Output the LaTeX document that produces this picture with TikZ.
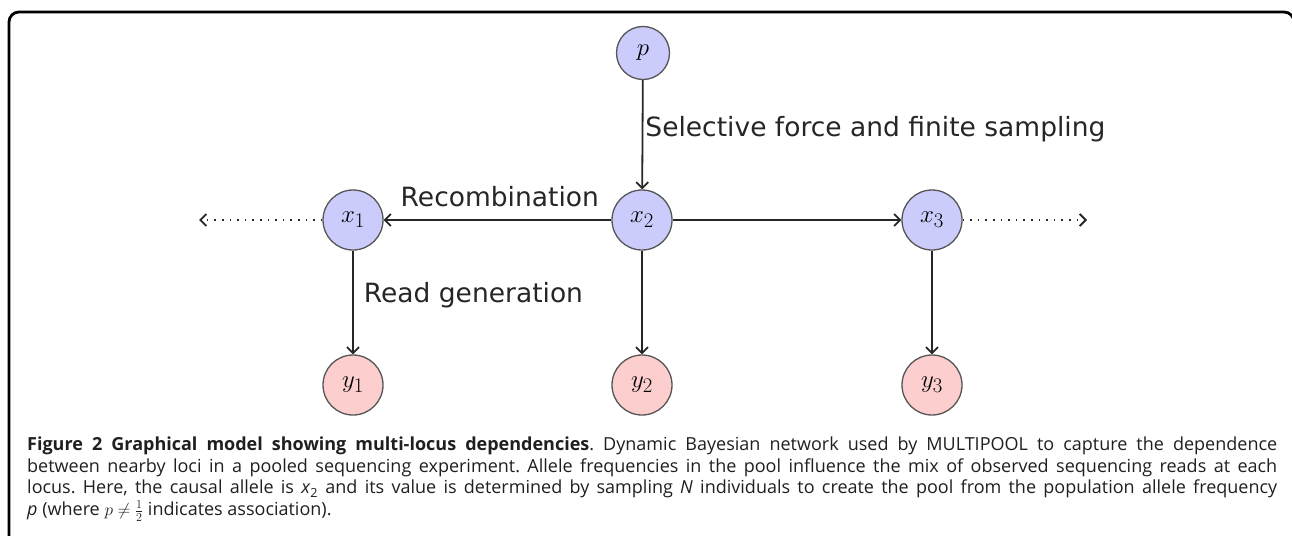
\documentclass[tikz,border=0pt]{standalone}
\usepackage{fontspec}
\setmainfont{Open Sans}
\newfontfamily\lblfont{DejaVu Sans}
\usetikzlibrary{arrows.meta}
\definecolor{nodeblue}{RGB}{204,204,252}
\definecolor{nodepink}{RGB}{252,206,206}
\definecolor{rim}{RGB}{85,85,85}
\begin{document}
\begin{tikzpicture}[x=1pt,y=-1pt,
  var/.style={circle, draw=rim, line width=1.3pt, fill=nodeblue, minimum size=60pt, inner sep=0pt, font=\fontsize{30}{34}\selectfont},
  pvar/.style={var, minimum size=53pt},
  obs/.style={var, fill=nodepink},
  edge/.style={draw=black!85, line width=1.8pt, -{Straight Barb[length=6pt,width=12pt]}},
  dotedge/.style={edge, dash pattern=on 1.6pt off 6pt},
  lbl/.style={font=\lblfont\fontsize{26.5}{30}\selectfont, text=black!85, inner sep=2pt},
  frame/.style={draw=black, line width=2.8pt, rounded corners=10pt},
  caption/.style={anchor=north west, inner sep=0pt, text width=1250pt, align=justify, text=black!88,
    font=\fontsize{18}{21.8}\selectfont}]
\useasboundingbox (0,0) rectangle (1292,535);
\draw[frame] (9,560) -- (9,12) -- (1294,12) -- (1294,560);

\node[pvar] (p)  at (643,53)  {$p$};
\node[var]  (x1) at (353,220) {$x_1$};
\node[var]  (x2) at (642,220) {$x_2$};
\node[var]  (x3) at (932,220) {$x_3$};
\node[obs]  (y1) at (353,385) {$y_1$};
\node[obs]  (y2) at (642,385) {$y_2$};
\node[obs]  (y3) at (932,385) {$y_3$};
\coordinate (lend) at (199,220);
\coordinate (rend) at (1087,220);

\draw[edge] (p) -- node[lbl, right, pos=0.45] {Selective force and finite sampling} (x2);
\draw[edge] (x2) -- node[lbl, above=10pt, pos=0.49] {Recombination} (x1);
\draw[edge] (x2) -- (x3);
\draw[edge] (x1) -- node[lbl, right=8pt, pos=0.43] {Read generation} (y1);
\draw[edge] (x2) -- (y2);
\draw[edge] (x3) -- (y3);
\draw[dotedge] (x1) -- (lend);
\draw[dotedge] (x3) -- (rend);

\node[caption] (cap) at (27,436.5) {\tolerance=9999\relax\hyphenpenalty=10000\relax\frenchspacing
\textbf{Figure 2 Graphical model showing multi-locus dependencies}. Dynamic Bayesian network used by MULTIPOOL to capture the dependence\linebreak between nearby loci in a pooled sequencing experiment. Allele frequencies in the pool influence the mix of observed sequencing reads at each\linebreak locus. Here, the causal allele is \textit{x}\textsubscript{2} and its value is determined by sampling \textit{N} individuals to create the pool from the population allele frequency\linebreak \textit{p} (where $p \neq \frac{1}{2}$ indicates association).};
\end{tikzpicture}
\end{document}
